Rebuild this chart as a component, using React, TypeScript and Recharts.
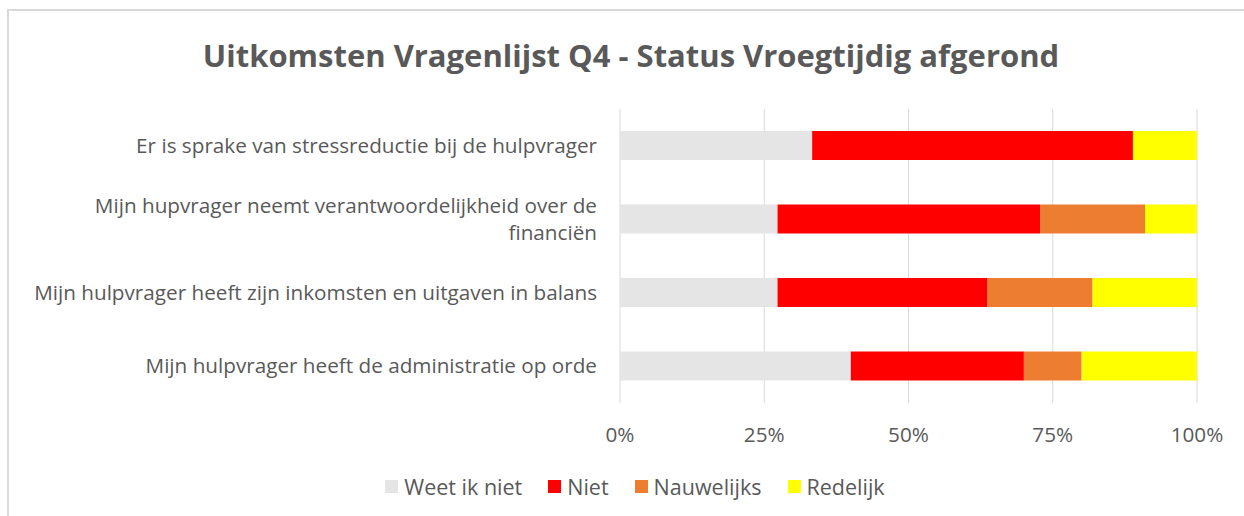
import { BarChart, Bar, XAxis, YAxis, CartesianGrid } from "recharts";

const categories = [
  "Er is sprake van stressreductie bij de hulpvrager",
  "Mijn hupvrager neemt verantwoordelijkheid over de financiën",
  "Mijn hulpvrager heeft zijn inkomsten en uitgaven in balans",
  "Mijn hulpvrager heeft de administratie op orde",
];
// wrapped lines for the category labels
const categoryLines = [
  ["Er is sprake van stressreductie bij de hulpvrager"],
  ["Mijn hupvrager neemt verantwoordelijkheid over de", "financiën"],
  ["Mijn hulpvrager heeft zijn inkomsten en uitgaven in balans"],
  ["Mijn hulpvrager heeft de administratie op orde"],
];

const weetIkNiet = [0.333, 0.273, 0.273, 0.4];
const niet = [0.556, 0.455, 0.364, 0.3];
const nauwelijks = [0, 0.182, 0.182, 0.1];
const redelijk = [0.111, 0.09, 0.181, 0.2];

const xTicks = [0, 0.25, 0.5, 0.75, 1];

const series = [
  { key: "weet", name: "Weet ik niet", color: "#e5e5e5" },
  { key: "niet", name: "Niet", color: "#ff0000" },
  { key: "nauw", name: "Nauwelijks", color: "#ed7d31" },
  { key: "red", name: "Redelijk", color: "#ffff00" },
];

const data = categories.map((c, i) => ({
  cat: c,
  weet: weetIkNiet[i],
  niet: niet[i],
  nauw: nauwelijks[i],
  red: redelijk[i],
}));

const FONT = "'Open Sans', sans-serif";
const TEXT = "#595959";

function CatTick({ x, y, index }: any) {
  const lines = categoryLines[index] || [];
  const lh = 27;
  const start = y - ((lines.length - 1) * lh) / 2;
  return (
    <text x={x} textAnchor="end" fill={TEXT} fontSize={20.7} fontFamily={FONT}>
      {lines.map((l, i) => (
        <tspan key={i} x={x} y={start + i * lh} dy="0.35em">
          {l}
        </tspan>
      ))}
    </text>
  );
}

function PctTick({ x, y, payload }: any) {
  return (
    <text x={x} y={y} dy="0.71em" textAnchor="middle" fill={TEXT} fontSize={20.7} fontFamily={FONT}>
      {Math.round(payload.value * 100) + "%"}
    </text>
  );
}

export default function App() {
  return (
    <div style={{ position: "absolute", left: 0, top: 0, width: 1244, height: 516, background: "#fff", overflow: "hidden" }}>
      <div
        style={{
          position: "absolute",
          left: 7,
          top: 9,
          width: 1260,
          height: 540,
          border: "2px solid #d9d9d9",
          boxSizing: "border-box",
        }}
      />
      <div
        style={{
          position: "absolute",
          left: 0,
          width: 1262,
          top: 30,
          textAlign: "center",
          fontFamily: FONT,
          fontWeight: 700,
          fontSize: 31,
          color: TEXT,
          lineHeight: "50px",
        }}
      >
        Uitkomsten Vragenlijst Q4 - Status Vroegtijdig afgerond
      </div>
      <div style={{ position: "absolute", left: 0, top: 0 }}>
        <BarChart
          width={1244}
          height={516}
          data={data}
          layout="vertical"
          barSize={29}
          margin={{ top: 109, right: 47, left: 20, bottom: 53 }}
        >
          <CartesianGrid horizontal={false} stroke="#d9d9d9" />
          <XAxis
            type="number"
            domain={[0, 1]}
            ticks={xTicks}
            tick={<PctTick />}
            axisLine={false}
            tickLine={false}
            tickMargin={18}
            height={60}
          />
          <YAxis
            type="category"
            dataKey="cat"
            width={600}
            tick={<CatTick />}
            axisLine={false}
            tickLine={false}
            tickMargin={17}
          />
          {series.map((s) => (
            <Bar key={s.key} dataKey={s.key} name={s.name} stackId="a" fill={s.color} isAnimationActive={false} />
          ))}
        </BarChart>
      </div>
      <div
        style={{
          position: "absolute",
          left: 0,
          width: 1270,
          top: 472,
          display: "flex",
          justifyContent: "center",
          gap: 26,
          fontFamily: FONT,
          fontSize: 21.5,
          color: TEXT,
        }}
      >
        {series.map((s) => (
          <div key={s.key} style={{ display: "flex", alignItems: "center" }}>
            <span style={{ width: 13, height: 13, background: s.color, marginRight: 6, display: "inline-block" }} />
            <span>{s.name}</span>
          </div>
        ))}
      </div>
    </div>
  );
}
